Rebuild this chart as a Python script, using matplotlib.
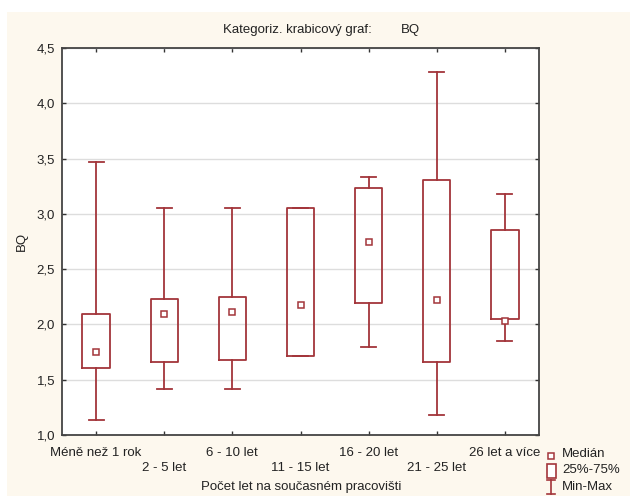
import matplotlib
matplotlib.use("Agg")
import matplotlib.pyplot as plt
from matplotlib.lines import Line2D
from matplotlib.patches import Rectangle
from matplotlib.ticker import FuncFormatter

plt.rcParams['font.family'] = ['Liberation Sans', 'DejaVu Sans']

categories = ["Méně než 1 rok", "2 - 5 let", "6 - 10 let", "11 - 15 let",
              "16 - 20 let", "21 - 25 let", "26 let a více"]
medians = [1.75, 2.09, 2.11, 2.18, 2.75, 2.22, 2.03]
q1 = [1.61, 1.66, 1.68, 1.71, 2.19, 1.66, 2.05]
q3 = [2.09, 2.23, 2.25, 3.05, 3.23, 3.31, 2.85]
mins = [1.14, 1.42, 1.42, 1.71, 1.80, 1.18, 1.85]
maxs = [3.47, 3.05, 3.05, 3.05, 3.33, 4.28, 3.18]

W, H = 630, 496
red = "#a3353a"
cream = "#fdf8ee"
txt_col = "#222222"
fs = 9.5


def fx(px):
    return px / W


def fy(py):
    return 1 - py / H


fig = plt.figure(figsize=(W / 100, H / 100), dpi=100)
fig.patch.set_facecolor("white")
fig.add_artist(Rectangle((fx(7), 0), 1 - fx(7), fy(12), transform=fig.transFigure,
                         facecolor=cream, edgecolor="none", zorder=-10))

ax = fig.add_axes([fx(62), fy(435), fx(539) - fx(62), fy(48) - fy(435)])
ax.set_facecolor("white")

stats = []
for i in range(len(categories)):
    stats.append(dict(med=medians[i], q1=q1[i], q3=q3[i],
                      whislo=mins[i], whishi=maxs[i], fliers=[]))

pos = list(range(len(categories)))
ax.bxp(stats, positions=pos, widths=0.4, capwidths=0.22, showfliers=False,
       boxprops=dict(color=red, linewidth=1.3),
       whiskerprops=dict(color=red, linewidth=1.3),
       capprops=dict(color=red, linewidth=1.3),
       medianprops=dict(linewidth=0), zorder=3)
ax.plot(pos, medians, linestyle="none", marker="s", markersize=4.8,
        markerfacecolor="white", markeredgecolor=red, markeredgewidth=1.1, zorder=4)

ax.set_xlim(-0.5, len(categories) - 0.5)
ax.set_ylim(1.0, 4.5)
ax.set_yticks([1.0, 1.5, 2.0, 2.5, 3.0, 3.5, 4.0, 4.5])
ax.yaxis.set_major_formatter(FuncFormatter(lambda v, p: f"{v:.1f}".replace(".", ",")))
ax.set_xticks(pos)
# alternate labels drop to a second row
ax.set_xticklabels([c if i % 2 == 0 else "\n" + c for i, c in enumerate(categories)],
                   fontsize=fs, color=txt_col, linespacing=1.35)
ax.tick_params(axis="both", direction="in", length=3, width=1, color="#333333",
               top=True, right=True, labelsize=fs, labelcolor=txt_col)
ax.tick_params(axis="x", pad=8.5)
ax.tick_params(axis="y", pad=5)
ax.grid(axis="y", color="#dddddd", linewidth=1)
ax.set_axisbelow(True)
for s in ax.spines.values():
    s.set_color("#444444")
    s.set_linewidth(1.3)

fig.text(fx(22), fy(241), "BQ", rotation=90, ha="center", va="center",
         fontsize=fs, color=txt_col)
fig.text(fx(301), fy(487), "Počet let na současném pracovišti", ha="center",
         va="center", fontsize=fs, color=txt_col)
fig.text(fx(223), fy(30), "Kategoriz. krabicový graf:", ha="left",
         va="center", fontsize=fs, color=txt_col)
fig.text(fx(401), fy(30), "BQ", ha="left", va="center", fontsize=fs, color=txt_col)

# legend drawn by hand in figure pixels
fig.add_artist(Line2D([fx(551)], [fy(456)], transform=fig.transFigure, marker="s",
                      markersize=4.5, markerfacecolor="white", markeredgecolor=red,
                      markeredgewidth=1.1, linestyle="none"))
fig.add_artist(Rectangle((fx(547), fy(478)), fx(556) - fx(547), fy(464) - fy(478),
                         transform=fig.transFigure, facecolor="white",
                         edgecolor=red, linewidth=1.2))
fig.add_artist(Line2D([fx(551), fx(551)], [fy(480), fy(494)], transform=fig.transFigure,
                      color=red, linewidth=1.2))
for yy in (480, 494):
    fig.add_artist(Line2D([fx(547), fx(555)], [fy(yy), fy(yy)],
                          transform=fig.transFigure, color=red, linewidth=1.2))
for yy, txt in ((454, "Medián"), (470, "25%-75%"), (487, "Min-Max")):
    fig.text(fx(562), fy(yy), txt, ha="left", va="center", fontsize=fs, color=txt_col)

fig.savefig("out.png", dpi=100)
